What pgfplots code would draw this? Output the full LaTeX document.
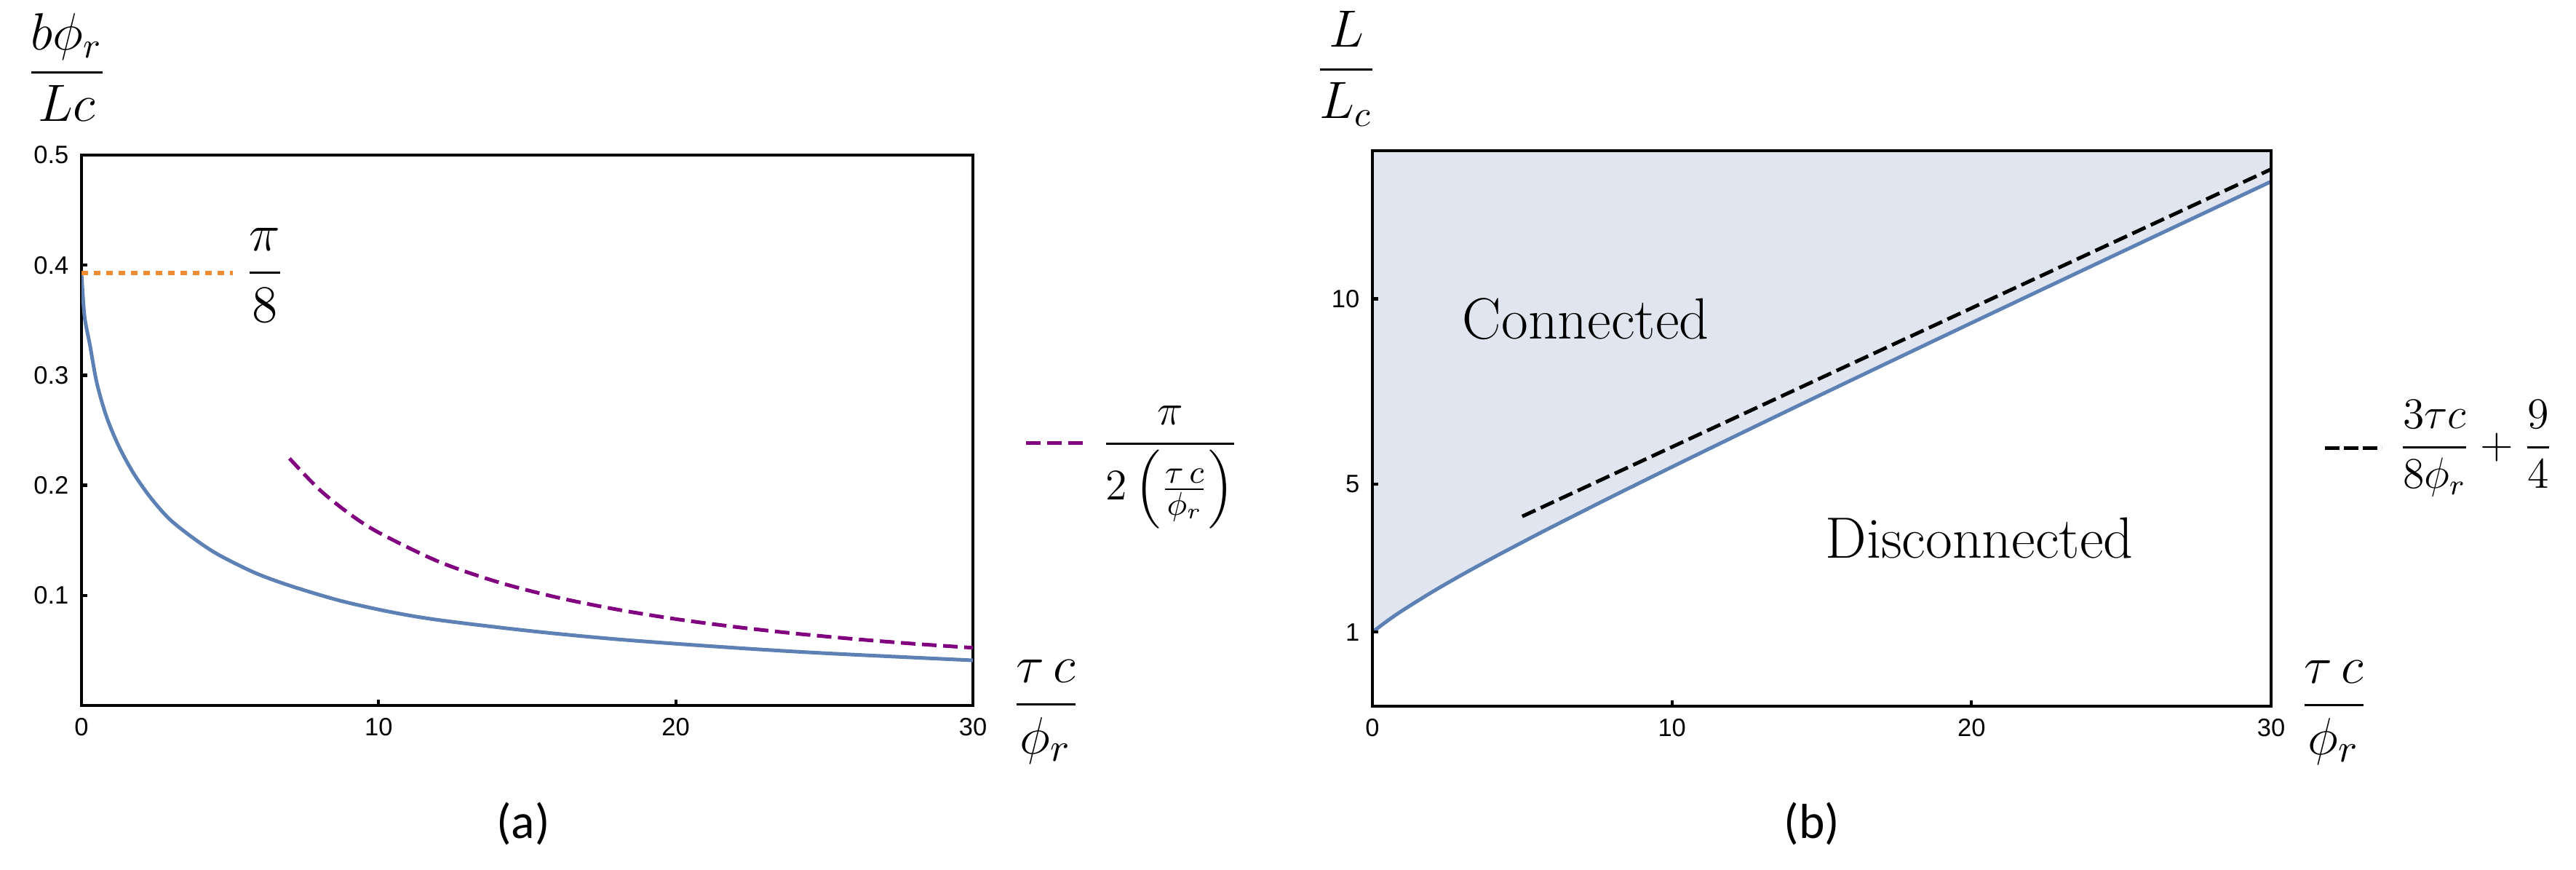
\documentclass[border=0pt]{standalone}
\usepackage{amsmath}
\usepackage{fontspec}
\setmainfont{Latin Modern Roman}
\newfontfamily\tickfont{Liberation Sans}
\newfontfamily\capfont{Carlito}
\usepackage{pgfplots}
\pgfplotsset{compat=1.18}

\definecolor{mblue}{rgb}{0.368,0.507,0.710}
\definecolor{morange}{rgb}{0.93,0.55,0.20}
\definecolor{mpurple}{rgb}{0.5,0,0.5}
\definecolor{fillc}{rgb}{0.878,0.898,0.937}

\pgfplotsset{
  mframe/.style={
    scale only axis,
    axis line style={line width=0.85pt},
    tick align=inside, tick pos=left,
    major tick length=1.6pt,
    every tick/.style={black, line width=0.85pt},
    /pgf/number format/assume math mode=true,
    tick label style={font=\tickfont\fontsize{6.9}{8}\selectfont},
    xmin=0, xmax=30, xtick={0,10,20,30},
  }
}

\begin{document}
\begin{tikzpicture}
\useasboundingbox (0,0) rectangle (708pt,238.8pt);

% (a)
\begin{axis}[mframe, at={(22.4pt,45pt)}, anchor=south west,
  width=245pt, height=151.2pt,
  ymin=0, ymax=0.5, ytick={0.1,0.2,0.3,0.4,0.5},
  yticklabel style={/pgf/number format/.cd, fixed, precision=1, fixed zerofill}]
\addplot[mblue, line width=1pt, smooth, tension=0.5] coordinates {
(0,0.3927) (0.1,0.354) (0.28,0.328) (0.52,0.2925) (0.85,0.2617) (1.26,0.2352)
(1.75,0.211) (2.32,0.189) (2.97,0.1691) (3.79,0.1515) (4.6,0.1371) (5.83,0.1206)
(7.05,0.1085) (8.69,0.0953) (10.32,0.0854) (11.95,0.0779) (15,0.068) (18,0.0602)
(21.75,0.0528) (25,0.0475) (30,0.041)};
\addplot[mpurple, line width=1pt, dash pattern=on 4pt off 1.8pt, smooth] coordinates {
(7,0.2244) (8,0.1963) (9,0.1745) (10,0.1571) (12,0.1309) (14,0.1122) (16,0.0982)
(18,0.0873) (20,0.0785) (22,0.0714) (24,0.0654) (26,0.0604) (28,0.0561) (30,0.0524)};
\addplot[morange, line width=1.3pt, dash pattern=on 1.8pt off 1.6pt] coordinates {(0,0.3927) (5.1,0.3927)};
\node[anchor=base, yshift=-3.5pt, font=\fontsize{14}{17}\selectfont] at (axis cs:6.17,0.3927) {$\dfrac{\pi}{8}$};
\end{axis}

% (b)
\begin{axis}[mframe, at={(377.2pt,44.8pt)}, anchor=south west,
  width=247pt, height=152.6pt,
  ymin=-1, ymax=14, ytick={1,5,10}, axis on top]
\addplot[fill=fillc, draw=none] coordinates {
(0,1.0) (0.5,1.305) (1,1.583) (2,2.088) (3,2.554) (4,2.997) (5,3.425) (6,3.844)
(8,4.661) (10,5.461) (12,6.25) (15,7.421) (18,8.581) (21,9.734) (24,10.882)
(27,12.026) (30,13.168) (30,14) (0,14)} -- cycle;
\addplot[mblue, line width=1pt, smooth] coordinates {
(0,1.0) (0.5,1.305) (1,1.583) (2,2.088) (3,2.554) (4,2.997) (5,3.425) (6,3.844)
(8,4.661) (10,5.461) (12,6.25) (15,7.421) (18,8.581) (21,9.734) (24,10.882)
(27,12.026) (30,13.168)};
\addplot[black, line width=1pt, dash pattern=on 4pt off 1.6pt] coordinates {(5,4.125) (30,13.5)};
\node[font=\fontsize{16}{19}\selectfont] at (axis cs:7.12,9.45) {Connected};
\node[font=\fontsize{16}{19}\selectfont] at (axis cs:20.26,3.54) {Disconnected};
\end{axis}

% axis labels
\node[anchor=base, yshift=-3.5pt, font=\fontsize{14}{17}\selectfont] at (18.4pt,218.8pt) {$\dfrac{b\phi_r}{Lc}$};
\node[anchor=base, yshift=-3.75pt, font=\fontsize{15}{18}\selectfont] at (287.4pt,45.4pt) {$\dfrac{\tau\,c}{\phi_r}$};
\node[anchor=base, yshift=-3.5pt, font=\fontsize{14}{17}\selectfont] at (370pt,219.6pt) {$\dfrac{L}{L_c}$};
\node[anchor=base, yshift=-3.75pt, font=\fontsize{15}{18}\selectfont] at (641.4pt,45.2pt) {$\dfrac{\tau\,c}{\phi_r}$};

% legends
\draw[mpurple, line width=1pt, dash pattern=on 4pt off 1.8pt] (282pt,117.2pt) -- (297.6pt,117.2pt);
\node[anchor=base, yshift=-3.1pt, font=\fontsize{12.5}{15}\selectfont] at (321.6pt,117pt) {$\dfrac{\pi}{2\left(\frac{\tau\,c}{\phi_r}\right)}$};
\draw[black, line width=1pt, dash pattern=on 4pt off 1.2pt] (639pt,115.8pt) -- (654.6pt,115.8pt);
\node[anchor=base west, inner sep=0pt, yshift=-2.9pt, font=\fontsize{11.5}{14}\selectfont] at (659pt,115.8pt) {$\dfrac{3\tau c}{8\phi_r}+\dfrac{9}{4}$};

% panel captions
\node[font=\capfont\fontsize{13.5}{16}\selectfont] at (143.8pt,12.6pt) {(a)};
\node[font=\capfont\fontsize{13.5}{16}\selectfont] at (498pt,12.6pt) {(b)};
\end{tikzpicture}
\end{document}
